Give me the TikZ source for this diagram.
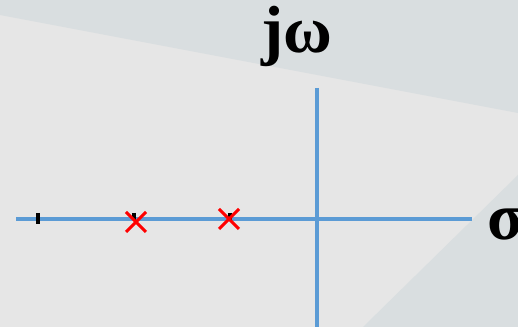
\documentclass[tikz,border=0pt]{standalone}
\usepackage{fontspec}
\setmainfont{Liberation Serif}
\usepackage{xcolor}
\usepackage{tikz}
\usetikzlibrary{arrows.meta,positioning,calc}
\definecolor{bglight}{HTML}{E6E6E6}
\definecolor{bgdark}{HTML}{D9DEE0}
\definecolor{axisblue}{HTML}{5B9BD5}
\definecolor{polered}{HTML}{FF0000}

\begin{document}
\begin{tikzpicture}[x=0.02cm,y=-0.02cm]
  \useasboundingbox (0,0) rectangle (518,327);
  \clip (0,0) rectangle (518,327);
  % background
  \fill[bglight] (0,0) rectangle (518,327);
  \fill[bgdark] (0,0)--(518,0)--(518,113)--(0,15)--cycle;
  \fill[bgdark] (518,175)--(518,327)--(363,327)--cycle;
  % axes
  \draw[line width=3.2pt/1.2,axisblue] (16,219)--(472,219);
  \draw[line width=3.2pt/1.2,axisblue] (317,88)--(317,327);
  % ticks
  \foreach \x/\a/\b in {38/213/224,134/213/220,230/213/220}{\draw[line width=2.5pt/1.2] (\x,\a)--(\x,\b);}
  % poles
  \draw[polered,line width=2pt/1.2] (126,212)--(146,232) (126,232)--(146,212);
  \draw[polered,line width=2pt/1.2] (219,209)--(239,229) (219,229)--(239,209);
  % labels
  \node[font=\fontsize{38}{40}\selectfont\bfseries,anchor=base,inner sep=0pt] (jw) at (297,53) {jω};
  \node[font=\fontsize{38}{40}\selectfont\bfseries,anchor=base west,inner sep=0pt] (sigma) at (487,240) {σ};
\end{tikzpicture}
\end{document}
